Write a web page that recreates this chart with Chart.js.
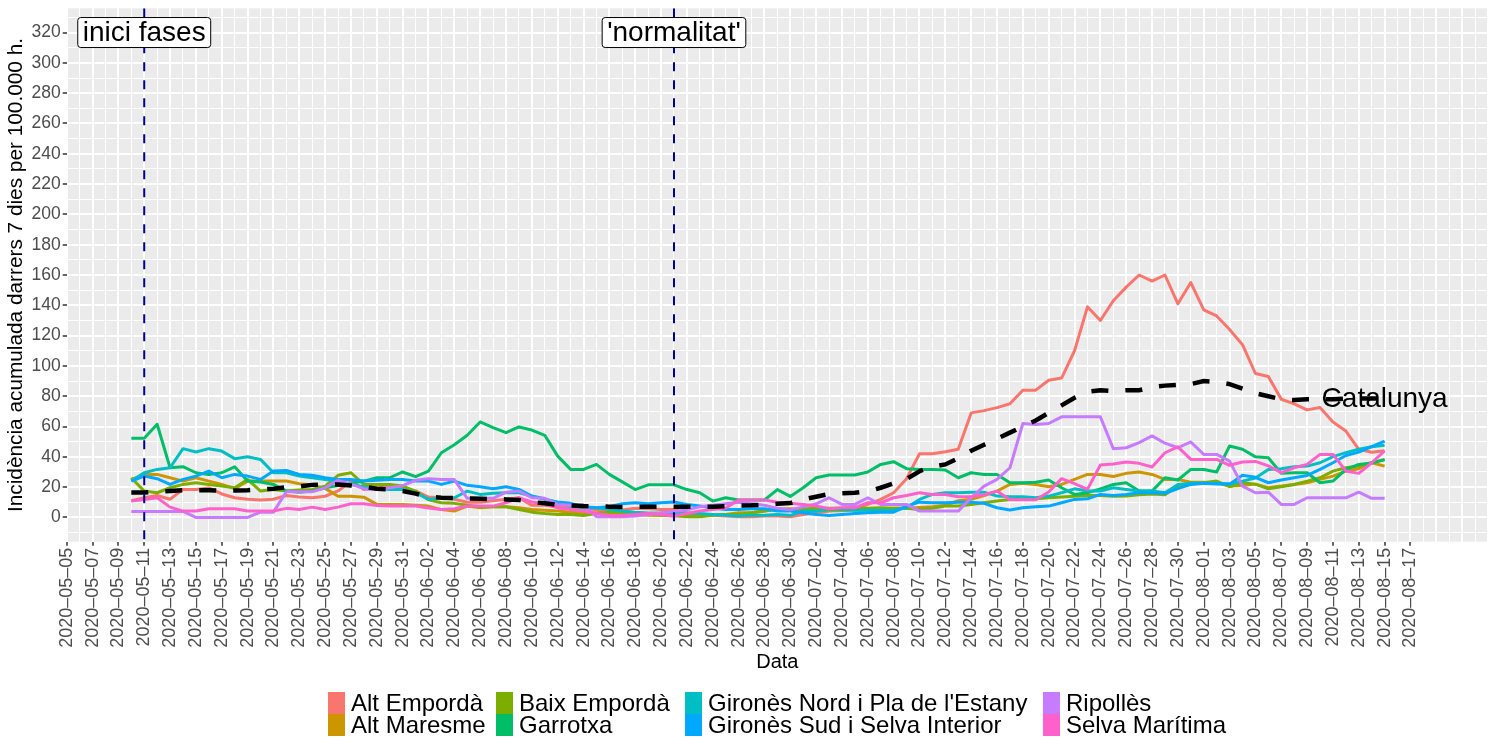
<!DOCTYPE html>
<html>
<head>
<meta charset="utf-8">
<script src="https://cdn.jsdelivr.net/npm/chart.js@4.4.1/dist/chart.umd.min.js"></script>
<style>
  html, body { margin: 0; padding: 0; background: #fff; }
</style>
</head>
<body>
<canvas id="chart" width="1494" height="738"></canvas>
<script>
// first day of every series, and the left end of the date axis
const firstDate = '2020-05-10';
const axisStart = '2020-05-05';
const lastTickDate = '2020-08-17';

const comarques = ['Alt Empordà', 'Alt Maresme', 'Baix Empordà', 'Garrotxa',
  "Gironès Nord i Pla de l'Estany", 'Gironès Sud i Selva Interior', 'Ripollès', 'Selva Marítima'];
const colors = ['#F8766D', '#CD9600', '#7CAE00', '#00BE67', '#00BFC4', '#00A9FF', '#C77CFF', '#FF61CC'];

// incidència acumulada 7 dies / 100.000 h., one value per day from 2020-05-10 to 2020-08-15
const altEmporda = [11, 13, 14.5, 12, 18.5, 18.5, 19.5, 15.5, 13, 12,
  11.5, 12, 14.5, 13.5, 13, 14, 17.5, 24, 18.5, 19.5,
  20.5, 19, 17.5, 13.5, 13, 12, 10, 10, 11, 12,
  13, 8, 8, 7, 6, 6, 5, 4, 5, 6,
  5.7, 5.2, 5.2, 3, 2, 1.4, 0.9, 0.4, 0.4, 0.9,
  0.9, 0.4, 1.9, 3.1, 4.2, 5.3, 6.4, 8.6, 11.9, 16.3,
  25.6, 42, 42, 43.4, 45, 69, 70.5, 72.5, 75, 84,
  84, 90.5, 92, 110, 139, 130, 143, 152, 160, 156,
  160, 141, 155, 137, 133, 124, 114, 95, 93, 78,
  75, 71, 72.5, 63, 57, 45, 43, 44];
const altMaresme = [25, 28.4, 28.4, 26.2, 24, 26.2, 24, 21.8, 19, 24,
  24, 24, 24, 22.3, 21.4, 19.2, 14, 14, 13.4, 8.6,
  8.6, 8.6, 8, 7.5, 5.2, 4.2, 7.5, 6.4, 7.1, 7.1,
  6.4, 5.3, 4.8, 4.2, 3.5, 3.1, 3.1, 3.1, 3.1, 2,
  1.4, 1.4, 0.9, 0.9, 1.4, 1.4, 2, 3.1, 3.1, 4.2,
  5.2, 5.7, 5, 4.5, 4.5, 4.5, 5, 5, 5.5, 6,
  6, 6.5, 7, 8, 11, 12, 14.5, 17.4, 21.8, 22.5,
  21.8, 20.3, 21.8, 25.1, 28.4, 28.4, 27, 29.1, 30, 28.4,
  25.1, 25, 23.3, 23.3, 22.9, 20.7, 21.1, 22, 19.6, 20.7,
  21.8, 22.9, 25.1, 27.3, 30.6, 32.2, 36.1, 33.9];
const baixEmporda = [26.2, 17.4, 16.3, 19.6, 21.8, 22.9, 21.8, 20.7, 19.6, 25.1,
  17.4, 18.5, 17.4, 18.1, 18.5, 20.7, 27.8, 29.5, 21.8, 21.8,
  21.8, 20.7, 17.4, 11.6, 9.7, 9.3, 8, 7.1, 7.1, 7.1,
  5.3, 3.5, 2.6, 2, 2, 1.3, 2.6, 3.5, 3.5, 2.5,
  2, 1.4, 1.4, 0.4, 0.4, 1.4, 2, 2, 3.1, 4.2,
  5.7, 5.2, 5.5, 6, 6, 6, 6.4, 6, 6.4, 6,
  6, 5.3, 6, 7.5, 7.5, 8.6, 9.7, 10.8, 11.9, 12.3,
  12.3, 13, 13.5, 14, 14.5, 14.5, 14, 14.1, 15, 15.5,
  15, 20.7, 22.9, 22.9, 24, 20.3, 22.9, 22, 18.9, 20.3,
  21.8, 24, 26.2, 30.6, 32.8, 33.9, 36.1, 38.3];
const garrotxa = [52.2, 52.2, 61.5, 32.8, 33.5, 29.5, 28.4, 29.5, 33.4, 24,
  23.4, 21.8, 17.4, 16.7, 17.4, 19.6, 21.1, 22.5, 24, 26.2,
  26.2, 30, 26.9, 30.6, 42.7, 48, 54.2, 63, 59.3, 56,
  59.7, 57.7, 54.2, 40.5, 31.7, 31.7, 35, 28.4, 23.5, 18.4,
  21.5, 21.5, 21.5, 18.4, 16.3, 10.8, 13, 11.5, 11.5, 11.5,
  18.4, 13.9, 19.6, 26.2, 28, 28, 28, 30, 35, 36.8,
  32.2, 31.7, 31.7, 31.3, 26.2, 29.5, 28.4, 28.4, 22.9, 22.9,
  23.3, 24.7, 19.6, 15.2, 16.3, 18.9, 21.8, 22.9, 17.4, 17.4,
  26.2, 24.7, 31.7, 31.7, 30, 47.2, 45, 40, 39.4, 29.1,
  29.5, 29.5, 22.9, 24, 31.7, 35, 36, 38];
const gironesNord = [24, 29.5, 31.7, 32.8, 45.4, 43.2, 45.4, 43.8, 38.8, 40,
  38.3, 29.5, 29.5, 27.3, 26.2, 25.1, 24, 21.8, 20.2, 19,
  18.5, 18.5, 16.3, 11.9, 13, 13, 17.4, 15.2, 15.9, 16.3,
  16.3, 14.1, 12.3, 9.7, 7.5, 6.4, 6.4, 5.3, 4.2, 3.5,
  3, 3, 3.5, 3, 2.6, 2, 1.4, 0.9, 1.4, 1.4,
  2, 1.4, 4.2, 4.2, 5.3, 5.3, 4.8, 4.8, 4.8, 4.8,
  6.4, 11.9, 15.2, 16.3, 16.3, 16.7, 16.7, 14.1, 13.7, 13.7,
  13, 14.1, 16.3, 18.9, 17.4, 17.4, 19.6, 18.5, 17.4, 17.4,
  16.3, 21.8, 22.5, 22.5, 22.5, 22, 24, 26, 31.7, 32.2,
  33.5, 33.9, 36.1, 40.1, 42.8, 45, 46.7, 47.6];
const gironesSud = [24, 27.3, 25.6, 21.8, 25.1, 27.3, 30.6, 26.2, 28.4, 27.3,
  25.1, 30.6, 31, 28.4, 27.8, 26.2, 25.1, 25.1, 24, 24.6,
  25.1, 25.1, 24, 24, 21.8, 24, 21.2, 20.3, 19, 20.3,
  18.5, 14.1, 11.9, 10.2, 9.3, 7.1, 6.4, 7.1, 9, 9.7,
  9, 9.7, 10.2, 8.6, 7.5, 6.3, 5.2, 5.2, 5.7, 5.7,
  4.2, 4.2, 3.1, 2, 1.3, 2, 2.6, 3.1, 3.5, 3.5,
  7.5, 10.1, 9.7, 9.7, 10.1, 10.1, 9.3, 6.4, 4.9, 6.4,
  7.1, 7.5, 9.7, 11.9, 12.3, 15.2, 14.5, 15.2, 16.3, 16.3,
  15.9, 19, 21.8, 22.5, 22, 22, 27.8, 26.5, 22.9, 24.7,
  26.2, 27.7, 31.7, 36.1, 40.9, 43.1, 46.7, 50.4];
const ripolles = [4, 4, 4, 4, 4, 0, 0, 0, 0, 0,
  3.5, 3.5, 17, 17, 17, 19.5, 24.5, 22, 19, 18.5,
  19.6, 21, 24.5, 25.5, 25, 25, 12.6, 12.6, 12.6, 16.7,
  17.4, 13, 12.6, 8.6, 8, 8, 0.5, 0.5, 0.5, 1,
  2, 3, 4, 5, 7, 8, 9, 10, 9, 8,
  6, 5, 7, 9, 13, 8.6, 8.6, 13, 8.6, 8.6,
  8.6, 4.2, 4.2, 4.2, 4.2, 13, 20.7, 25.1, 32.8, 62,
  61.4, 62, 66.4, 66.4, 66.4, 66.4, 45.4, 46, 49.4, 53.8,
  49, 46, 49.8, 41.6, 41.6, 37.2, 20.7, 16.3, 16.7, 8.6,
  8.6, 13, 13, 13, 13, 16.7, 12.6, 12.6];
const selvaMaritima = [10.8, 11.9, 13, 6.8, 4.2, 4.2, 5.7, 5.7, 5.7, 4.2,
  4.2, 4.2, 6, 5.2, 6.8, 5.2, 6.8, 9, 9, 7.9,
  7.5, 7.5, 7.5, 6.3, 5.2, 5.7, 7.5, 7.5, 7.5, 9.7,
  13, 10.2, 9, 6.3, 5.2, 4.1, 2.6, 1.3, 1.3, 2,
  2.6, 2, 1, 2.6, 4.2, 5.2, 6.3, 11.5, 11.5, 11.5,
  10, 9.3, 8.6, 7.5, 5.7, 6.4, 6.4, 9.7, 9.7, 13,
  14.5, 16.3, 15.2, 15.2, 13.7, 13.9, 15, 17.4, 11.7, 11.7,
  11.7, 16.8, 25.6, 22.3, 18.5, 34.6, 35.3, 36.6, 35.7, 33.3,
  42.7, 46.6, 38.3, 38.3, 38.3, 34.4, 36.6, 37, 34, 29.6,
  32.8, 35, 41.6, 41.6, 30.7, 29.1, 36.1, 43.9];
const catalunya = [16.5, 16.5, 17, 17.5, 18, 18, 18, 17.5, 17.8, 18,
  18.5, 19, 20, 20.5, 21.5, 21.8, 21.8, 21.1, 20.2, 18.9,
  18.5, 17.5, 15.7, 13.7, 13, 12.8, 12.5, 12.3, 12.2, 11.9,
  11.5, 10.2, 9.3, 8.4, 8, 7.5, 7.4, 7.1, 6.9, 7,
  7, 7, 7, 7, 7, 7, 7.5, 7.9, 8, 8.5,
  9, 9.5, 11.9, 13.7, 15.5, 15.9, 16.3, 17.2, 19.6, 22.5,
  25.4, 30.5, 33.6, 35, 39, 44, 48, 52, 56, 60,
  64, 69, 74, 79, 83, 84, 83.5, 84, 84, 86,
  87, 87.5, 88, 90, 89.5, 88, 85, 82, 80, 78,
  77.5, 78, 78, 78, 78.5, 78.5, 78.5, 78.5];

const seriesValues = [altEmporda, altMaresme, baixEmporda, garrotxa, gironesNord, gironesSud, ripolles, selvaMaritima];

// vertical markers
const markerDates = ['2020-05-11', '2020-06-21'];
const markerLabels = ['inici fases', "'normalitat'"];
const markerLabelY = 320;

const FONT = '"Liberation Sans", Arial, sans-serif';
const DAY = 86400000;
function dayOffset(s) {
  return (Date.parse(s + 'T00:00:00Z') - Date.parse(axisStart + 'T00:00:00Z')) / DAY;
}
function dateLabel(off) {
  const d = new Date(Date.parse(axisStart + 'T00:00:00Z') + off * DAY);
  return d.toISOString().slice(0, 10).replace(/-/g, '\u2013');
}

const first = dayOffset(firstDate);
const lastTick = dayOffset(lastTickDate);
const toPoints = arr => arr.map((v, i) => ({ x: first + i, y: v }));

const datasets = comarques.map((name, i) => ({
  label: name,
  data: toPoints(seriesValues[i]),
  borderColor: colors[i],
  backgroundColor: colors[i],
  borderWidth: 3,
  pointRadius: 0,
  tension: 0,
  borderJoinStyle: 'round',
  order: comarques.length - i
}));
datasets.push({
  label: 'Catalunya',
  data: toPoints(catalunya),
  borderColor: '#000000',
  borderWidth: 4.5,
  borderDash: [17, 17],
  pointRadius: 0,
  tension: 0,
  order: 0
});

const panelBg = {
  id: 'panelBg',
  beforeDraw(chart) {
    const a = chart.chartArea, ctx = chart.ctx;
    ctx.save();
    ctx.fillStyle = '#EBEBEB';
    ctx.fillRect(a.left, a.top, a.right - a.left, a.bottom - a.top);
    ctx.restore();
  }
};

const markers = {
  id: 'markers',
  afterDatasetsDraw(chart) {
    const ctx = chart.ctx, a = chart.chartArea;
    const xs = chart.scales.x, ys = chart.scales.y;
    ctx.save();
    ctx.beginPath();
    ctx.rect(a.left, a.top, a.right - a.left, a.bottom - a.top);
    ctx.clip();
    markerDates.forEach(d => {
      const px = xs.getPixelForValue(dayOffset(d));
      ctx.strokeStyle = '#00008B';
      ctx.lineWidth = 2;
      ctx.setLineDash([9, 9]);
      ctx.beginPath();
      ctx.moveTo(px, a.top);
      ctx.lineTo(px, a.bottom);
      ctx.stroke();
    });
    ctx.setLineDash([]);
    ctx.font = '28px ' + FONT;
    ctx.textAlign = 'center';
    ctx.textBaseline = 'middle';
    markerDates.forEach((d, i) => {
      const px = xs.getPixelForValue(dayOffset(d));
      const py = ys.getPixelForValue(markerLabelY);
      const w = ctx.measureText(markerLabels[i]).width + 10;
      const h = 30;
      ctx.fillStyle = '#ffffff';
      ctx.strokeStyle = '#000000';
      ctx.lineWidth = 1;
      ctx.beginPath();
      ctx.roundRect(px - w / 2, py - h / 2, w, h, 3);
      ctx.fill();
      ctx.stroke();
      ctx.fillStyle = '#000000';
      ctx.fillText(markerLabels[i], px, py + 1);
    });
    // Catalunya label at the last point
    const lastIdx = catalunya.length - 1;
    const cx = xs.getPixelForValue(first + lastIdx);
    const cy = ys.getPixelForValue(catalunya[lastIdx]);
    ctx.fillStyle = '#000000';
    ctx.fillText('Catalunya', cx, cy + 1);
    ctx.restore();
  }
};

const legendBlock = {
  id: 'legendBlock',
  afterDraw(chart) {
    const ctx = chart.ctx;
    const colX = [328, 496, 685, 1043];
    const rowY = [692, 714];
    ctx.save();
    ctx.font = '24px ' + FONT;
    ctx.textBaseline = 'middle';
    ctx.textAlign = 'left';
    comarques.forEach((name, i) => {
      const c = Math.floor(i / 2), r = i % 2;
      ctx.fillStyle = colors[i];
      ctx.fillRect(colX[c], rowY[r], 17, 22);
      ctx.fillStyle = '#000000';
      ctx.fillText(name, colX[c] + 23, rowY[r] + 12);
    });
    ctx.restore();
  }
};

const xTicks = [];
for (let v = 0; v <= 110; v++) xTicks.push({ value: v });
const yTicks = [];
for (let v = -10; v <= 330; v += 10) yTicks.push({ value: v });

const xLabelled = v => v % 2 === 0 && v <= lastTick;
const yLabelled = v => v % 20 === 0 && v >= 0 && v <= 320;

new Chart(document.getElementById('chart'), {
  type: 'line',
  data: { datasets },
  options: {
    responsive: false,
    animation: false,
    devicePixelRatio: 1,
    layout: { padding: { top: 8.3, right: 6, bottom: 63.3, left: 0 } },
    plugins: { legend: { display: false }, tooltip: { enabled: false } },
    scales: {
      x: {
        type: 'linear',
        min: 0,
        max: 110,
        afterBuildTicks: s => { s.ticks = xTicks.map(t => ({ ...t })); },
        afterFit: s => { s.height = 133; s.paddingLeft = 0; s.paddingRight = 0; },
        border: { display: false },
        grid: {
          color: '#FFFFFF',
          lineWidth: c => (c.tick && c.tick.value % 2 === 0 ? 2 : 1),
          drawTicks: true,
          tickLength: 4,
          tickWidth: 1.5,
          tickColor: c => (c.tick && xLabelled(c.tick.value) ? '#333333' : 'rgba(0,0,0,0)')
        },
        ticks: {
          autoSkip: false,
          maxRotation: 90,
          minRotation: 90,
          padding: 2,
          color: '#4D4D4D',
          font: { family: FONT, size: 18 },
          callback: v => (xLabelled(v) ? dateLabel(v) : '')
        },
        title: {
          display: true,
          text: 'Data',
          color: '#000000',
          padding: { top: 0, bottom: 0 },
          font: { family: FONT, size: 20 }
        }
      },
      y: {
        type: 'linear',
        min: -16,
        max: 336,
        afterBuildTicks: s => { s.ticks = yTicks.map(t => ({ ...t })); },
        afterFit: s => { s.width = 66.7; s.paddingTop = 0; s.paddingBottom = 0; },
        border: { display: false },
        grid: {
          color: '#FFFFFF',
          lineWidth: c => (c.tick && c.tick.value % 20 === 0 ? 2 : 1),
          drawTicks: true,
          tickLength: 4,
          tickWidth: 1.5,
          tickColor: c => (c.tick && yLabelled(c.tick.value) ? '#333333' : 'rgba(0,0,0,0)')
        },
        ticks: {
          autoSkip: false,
          padding: 2,
          color: '#4D4D4D',
          font: { family: FONT, size: 17.5 },
          callback: v => (yLabelled(v) ? String(v) : '')
        },
        title: {
          display: true,
          text: 'Incidència acumulada darrers 7 dies per 100.000 h.',
          color: '#000000',
          padding: { top: 4, bottom: 0 },
          font: { family: FONT, size: 20.8 }
        }
      }
    }
  },
  plugins: [panelBg, markers, legendBlock]
});
</script>
</body>
</html>
